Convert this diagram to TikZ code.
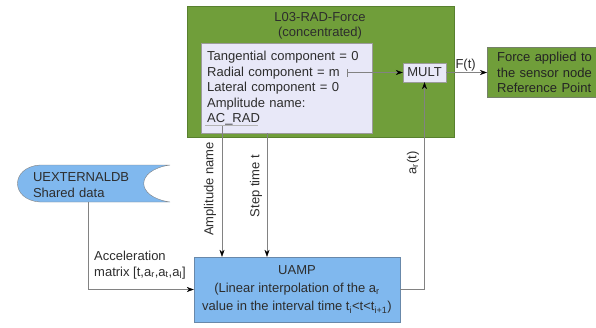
\documentclass[tikz,border=0pt]{standalone}
\usepackage{fontspec}
\setmainfont{Liberation Sans}
\usetikzlibrary{arrows.meta}
\definecolor{loadgreen}{RGB}{112,158,58}
\definecolor{loadedge}{RGB}{88,128,46}
\definecolor{paramfill}{RGB}{232,232,248}
\definecolor{umpblue}{RGB}{128,184,238}
\definecolor{umpedge}{RGB}{104,136,170}
\definecolor{linegrey}{RGB}{130,130,130}
\definecolor{textgrey}{RGB}{45,45,45}
\tikzstyle{loadbox} = [
    rectangle,
    fill=loadgreen,
    draw=loadedge,
    inner sep=0pt
]
\tikzstyle{parambox} = [
    rectangle,
    fill=paramfill,
    draw=linegrey!80,
    align=left
]
\tikzstyle{subbox} = [
    rectangle,
    fill=umpblue,
    draw=umpedge,
    align=center
]
\tikzstyle{lbl} = [
    text=textgrey,
    inner sep=1pt
]
\tikzstyle{arrow} = [draw=linegrey, -{Stealth[length=7pt,width=5pt,color=black]}]

\begin{document}
\begin{tikzpicture}[x=1pt, y=-1pt, font=\fontsize{13}{15.5}\selectfont, text=textgrey]
\clip (0,0) rectangle (596,327);
\useasboundingbox (0,0) rectangle (596,327);

% load definition
\node (load) [loadbox, minimum width=267pt, minimum height=131pt] at (320.5,71.5) {};
\node (title) [lbl, align=center] at (320,26) {L03-RAD-Force\\(concentrated)};

\node (params) [parambox, anchor=north west, minimum width=171pt, minimum height=90pt,
    inner sep=6pt, text width=159pt] at (201,43)
{Tangential component = 0\\Radial component = m\\Lateral component = 0\\Amplitude name:\\AC\_RAD};

\node (mult) [parambox, align=center, minimum width=43pt, minimum height=19pt, inner sep=2pt]
    at (424.5,72.5) {MULT};

\node (force) [loadbox, draw=linegrey!70!loadedge, anchor=west, minimum height=50pt,
    text width=104pt, inner xsep=10pt, inner ysep=0pt, align=left,
    text=textgrey!80!black] at (487,72.5)
{Force applied to\\the sensor node\\Reference Point};

% subroutines
\node (uamp) [subbox, minimum width=206pt, minimum height=65pt, inner sep=2pt,
    font=\fontsize{13}{18}\selectfont] at (297,289.5)
{UAMP\\(Linear interpolation of the a\textsubscript{r}\\
value in the interval time t\textsubscript{i}<t<t\textsubscript{i+1})};

\filldraw [fill=umpblue, draw=linegrey] (40,165) -- (170,165)
    .. controls (135,170) and (135,197) .. (170,202) -- (40,202)
    .. controls (10,200) and (10,167) .. (40,165) -- cycle;
\node (extdb) [lbl, text width=110pt, align=left, inner sep=0pt] at (88,185)
{UEXTERNALDB\\Shared data};

% connection points
\coordinate (radm) at (347,72.5);
\coordinate (acrad) at (222,126);
\coordinate (steptop) at (267,133);
\coordinate (dbout) at (88,202);

\draw [linegrey!60] (205,125) -- (258,125);
\draw [linegrey] ([yshift=-4pt]radm) -- ([yshift=4pt]radm);

\draw [arrow] (radm) -- (mult);
\draw [arrow] (mult) -- node (ft) [lbl, above, xshift=-1pt] {F(t)} (force);
\draw [arrow] (uamp.east) -| (mult.south);
\draw [arrow] (acrad) -- (acrad |- uamp.north);
\draw [arrow] (steptop) -- (steptop |- uamp.north);
\draw [arrow] (dbout) |- (uamp.west);

\node (amplbl) [lbl, rotate=90] at (210,189) {Amplitude name};
\node (steplbl) [lbl, rotate=90] at (256,186) {Step time t};
\node (arlbl) [lbl, rotate=90] at (413,163) {a\textsubscript{r}(t)};
\node (acclbl) [lbl, anchor=west, align=left] at (93,265)
{Acceleration\\matrix [t,a\textsubscript{r},a\textsubscript{t},a\textsubscript{l}]};

\end{tikzpicture}
\end{document}
